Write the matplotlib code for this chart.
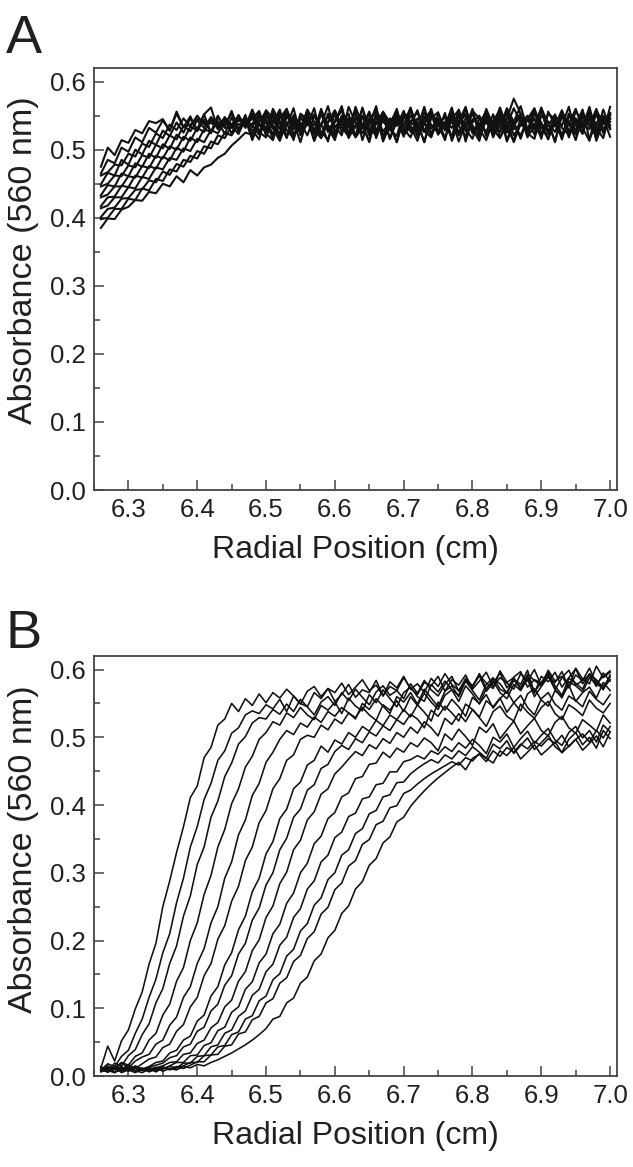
import numpy as np
import matplotlib.pyplot as plt
from matplotlib.ticker import MultipleLocator, FormatStrFormatter

plt.rcParams['font.family'] = ['Liberation Sans', 'DejaVu Sans']
TXT = '#231f20'

# radial positions (cm) of the scan readings
radial_pos = [6.26, 6.27, 6.28, 6.29, 6.30, 6.31, 6.32, 6.33, 6.34, 6.35,
              6.36, 6.37, 6.38, 6.39, 6.40, 6.41, 6.42, 6.43, 6.44, 6.45,
              6.46, 6.47, 6.48, 6.49, 6.50, 6.51, 6.52, 6.53, 6.54, 6.55,
              6.56, 6.57, 6.58, 6.59, 6.60, 6.61, 6.62, 6.63, 6.64, 6.65,
              6.66, 6.67, 6.68, 6.69, 6.70, 6.71, 6.72, 6.73, 6.74, 6.75,
              6.76, 6.77, 6.78, 6.79, 6.80, 6.81, 6.82, 6.83, 6.84, 6.85,
              6.86, 6.87, 6.88, 6.89, 6.90, 6.91, 6.92, 6.93, 6.94, 6.95,
              6.96, 6.97, 6.98, 6.99, 7.00]

# ---- Panel A scans (absorbance x 1000), 6.26-6.47 then 6.48-7.00
scan_a01 = [385, 399, 398, 412, 416, 426, 425, 438, 436, 450, 446, 461, 452, 470, 462, 474, 478, 488, 494, 506, 515, 525] + \
    [522, 548, 531, 556, 514, 538, 545, 524, 551, 529, 517, 541, 558, 533, 519, 547, 536, 511, 549, 527, 540, 555, 521, 534, 513, 546,
     557, 526, 538, 518, 550, 532, 560, 520, 543, 529, 553, 512, 537, 548, 525, 556, 533, 516, 542, 551, 527, 536, 559, 515, 540, 549, 530]
scan_a02 = [398, 400, 413, 413, 428, 426, 443, 440, 457, 454, 471, 468, 485, 482, 498, 494, 512, 508, 525, 521, 538, 534] + \
    [548, 526, 518, 552, 537, 560, 521, 533, 544, 513, 555, 535, 524, 547, 539, 519, 562, 530, 522, 551, 536, 511, 546, 557, 528, 540,
     520, 553, 531, 545, 512, 538, 556, 526, 549, 521, 534, 561, 541, 516, 547, 530, 558, 523, 537, 552, 518, 546, 533, 563, 522, 539, 554]
scan_a03 = [401, 413, 415, 428, 429, 441, 442, 455, 452, 468, 463, 479, 475, 491, 487, 505, 502, 521, 517, 535, 523, 545] + \
    [533, 555, 520, 540, 559, 518, 546, 530, 553, 524, 538, 512, 557, 535, 547, 521, 534, 556, 528, 550, 516, 542, 533, 561, 519, 548,
     537, 525, 554, 513, 539, 551, 524, 535, 558, 530, 517, 546, 575, 553, 520, 533, 562, 527, 544, 515, 550, 538, 523, 556, 535, 547, 519]
scan_a04 = [414, 418, 430, 430, 445, 443, 460, 457, 474, 471, 488, 485, 502, 498, 516, 511, 529, 524, 541, 534, 545, 538] + \
    [553, 527, 541, 516, 550, 535, 561, 521, 538, 552, 526, 515, 543, 557, 534, 519, 548, 540, 560, 512, 536, 551, 524, 541, 555, 528,
     518, 546, 535, 562, 521, 539, 552, 531, 514, 543, 557, 525, 536, 549, 518, 554, 532, 541, 511, 556, 538, 523, 550, 535, 560, 529, 545]
scan_a05 = [417, 430, 431, 447, 445, 462, 459, 476, 472, 490, 484, 503, 497, 518, 511, 530, 526, 542, 523, 547, 530, 551] + \
    [520, 540, 557, 531, 513, 549, 536, 526, 559, 541, 517, 553, 533, 545, 520, 563, 537, 528, 551, 514, 540, 555, 531, 518, 546, 536,
     560, 523, 541, 532, 556, 512, 545, 537, 526, 552, 518, 535, 561, 540, 530, 546, 516, 556, 536, 521, 549, 540, 526, 553, 513, 541, 552]
scan_a06 = [430, 434, 446, 446, 461, 459, 476, 473, 491, 487, 505, 500, 519, 513, 532, 526, 543, 535, 546, 532, 544, 538] + \
    [538, 552, 524, 514, 546, 560, 530, 540, 521, 549, 536, 564, 526, 541, 553, 518, 532, 546, 524, 556, 540, 511, 550, 535, 522, 555,
     531, 545, 538, 518, 559, 527, 540, 550, 520, 536, 562, 532, 513, 546, 542, 557, 524, 535, 552, 520, 538, 560, 531, 545, 517, 550, 536]
scan_a07 = [433, 448, 446, 465, 461, 480, 475, 494, 488, 508, 501, 522, 514, 534, 528, 544, 526, 550, 532, 534, 543, 539] + \
    [529, 515, 553, 541, 532, 557, 520, 546, 536, 561, 518, 540, 551, 526, 535, 558, 514, 545, 537, 550, 529, 520, 555, 540, 532, 563,
     524, 537, 548, 518, 541, 553, 530, 513, 551, 540, 526, 557, 536, 521, 545, 561, 532, 540, 512, 550, 541, 529, 555, 537, 524, 559, 532]
scan_a08 = [446, 450, 462, 461, 477, 474, 492, 488, 507, 502, 521, 515, 535, 527, 543, 532, 548, 536, 545, 537, 550, 534] + \
    [559, 535, 545, 522, 555, 529, 517, 550, 540, 526, 560, 532, 514, 549, 537, 553, 524, 536, 564, 519, 546, 535, 557, 526, 540, 511,
     552, 542, 530, 555, 524, 546, 536, 518, 560, 535, 545, 552, 521, 537, 529, 555, 540, 515, 549, 535, 563, 522, 540, 550, 532, 517, 553]
scan_a09 = [449, 466, 462, 485, 478, 500, 493, 513, 507, 528, 520, 540, 525, 546, 530, 552, 524, 548, 533, 557, 528, 545] + \
    [514, 541, 550, 535, 524, 557, 540, 511, 546, 536, 553, 526, 541, 562, 517, 536, 550, 521, 540, 555, 530, 545, 519, 560, 535, 526,
     548, 538, 514, 552, 541, 563, 528, 536, 557, 518, 546, 532, 540, 553, 524, 516, 550, 541, 536, 558, 526, 545, 532, 513, 557, 540, 546]
scan_a10 = [462, 467, 478, 477, 494, 490, 509, 504, 524, 517, 537, 529, 546, 534, 550, 537, 544, 531, 548, 535, 543, 538] + \
    [545, 557, 526, 536, 519, 552, 541, 530, 558, 513, 538, 548, 535, 521, 563, 540, 532, 553, 517, 545, 536, 560, 524, 550, 540, 511,
     546, 555, 528, 541, 535, 519, 557, 546, 524, 538, 552, 514, 541, 564, 530, 536, 519, 553, 545, 532, 522, 557, 540, 530, 552, 524, 563]
scan_a11 = [465, 485, 480, 503, 497, 518, 511, 532, 525, 543, 528, 553, 533, 537, 545, 541, 539, 534, 536, 553, 527, 544] + \
    [535, 522, 558, 546, 530, 540, 514, 553, 545, 526, 557, 536, 519, 550, 541, 532, 560, 524, 538, 552, 516, 546, 536, 562, 528, 541,
     553, 522, 536, 546, 558, 530, 516, 548, 540, 526, 555, 541, 511, 538, 550, 535, 560, 524, 540, 518, 553, 545, 532, 558, 526, 538, 550]
scan_a12 = [475, 503, 492, 514, 510, 529, 524, 542, 539, 545, 528, 556, 533, 549, 527, 552, 562, 530, 546, 523, 551, 532] + \
    [550, 536, 526, 560, 540, 517, 551, 535, 545, 522, 555, 530, 540, 564, 524, 546, 536, 513, 556, 541, 532, 548, 522, 538, 558, 526,
     551, 540, 518, 545, 535, 560, 527, 538, 550, 520, 541, 555, 530, 536, 546, 522, 561, 538, 526, 551, 540, 514, 548, 535, 556, 530, 541]

# ---- Panel B scans (absorbance x 1000): 6.26-6.50, 6.51-6.75, 6.76-7.00
scan_b01 = [12, 44, 22, 52, 68, 99, 124, 165, 196, 250, 288, 330, 368, 411, 428, 470, 485, 518, 527, 550, 538, 557, 547, 564, 551] + \
    [566, 558, 571, 561, 549, 568, 575, 560, 572, 566, 580, 563, 574, 585, 569, 577, 561, 582, 573, 590, 571, 579, 566, 587, 575] + \
    [594, 578, 569, 586, 574, 592, 580, 572, 598, 581, 588, 570, 593, 584, 576, 599, 583, 590, 574, 602, 586, 579, 605, 588, 596]
scan_b02 = [9, 18, 14, 29, 38, 63, 84, 116, 143, 182, 210, 256, 292, 338, 368, 408, 432, 466, 480, 506, 514, 533, 539, 535, 548] + \
    [542, 556, 538, 561, 550, 545, 566, 557, 572, 553, 563, 578, 559, 570, 566, 584, 561, 575, 569, 588, 572, 563, 581, 576, 590] + \
    [568, 585, 577, 592, 571, 583, 596, 575, 588, 580, 571, 594, 583, 600, 576, 589, 581, 597, 573, 592, 584, 602, 579, 590, 598]
scan_b03 = [11, 7, 19, 15, 30, 39, 61, 77, 108, 129, 166, 192, 236, 266, 312, 338, 382, 406, 442, 462, 490, 501, 521, 529, 527] + \
    [541, 534, 549, 538, 556, 545, 533, 552, 560, 547, 566, 554, 571, 559, 548, 567, 576, 562, 569, 557, 579, 565, 584, 570, 561] + \
    [578, 590, 568, 583, 575, 594, 571, 586, 579, 565, 589, 597, 574, 585, 580, 593, 570, 588, 599, 577, 584, 592, 575, 595, 583]
scan_b04 = [14, 6, 12, 20, 16, 29, 34, 53, 63, 90, 106, 140, 160, 200, 226, 268, 296, 338, 364, 402, 424, 456, 472, 497, 507] + \
    [523, 518, 536, 529, 544, 533, 526, 547, 540, 552, 535, 558, 546, 539, 563, 551, 570, 557, 545, 566, 574, 560, 553, 578, 567] + \
    [583, 570, 562, 587, 576, 591, 568, 580, 595, 573, 586, 578, 599, 565, 590, 582, 596, 574, 588, 601, 579, 593, 585, 570, 592]
scan_b05 = [8, 15, 10, 19, 12, 22, 28, 32, 47, 53, 75, 87, 116, 132, 166, 188, 226, 250, 292, 316, 356, 378, 414, 432, 463] + \
    [478, 497, 510, 504, 521, 515, 530, 522, 538, 531, 544, 536, 527, 550, 541, 557, 546, 535, 560, 552, 566, 549, 571, 558, 545] + \
    [568, 576, 560, 583, 569, 555, 578, 588, 571, 565, 584, 574, 590, 567, 581, 596, 576, 562, 587, 580, 571, 594, 583, 575, 589]
scan_b06 = [10, 6, 14, 9, 17, 11, 18, 25, 28, 42, 47, 66, 76, 102, 116, 148, 166, 202, 222, 258, 280, 318, 338, 374, 392] + \
    [424, 439, 466, 474, 497, 503, 500, 518, 511, 527, 520, 536, 529, 544, 533, 525, 548, 540, 554, 538, 560, 547, 565, 552, 541] + \
    [562, 570, 553, 576, 564, 549, 572, 583, 566, 557, 578, 569, 586, 560, 575, 590, 571, 558, 582, 576, 567, 588, 579, 572, 585]
scan_b07 = [7, 12, 5, 13, 8, 15, 10, 14, 20, 22, 34, 38, 53, 59, 81, 90, 118, 132, 164, 182, 216, 236, 272, 292, 328] + \
    [346, 380, 394, 424, 434, 459, 466, 487, 478, 496, 490, 507, 500, 516, 509, 525, 517, 533, 526, 541, 530, 548, 537, 524, 552] + \
    [540, 556, 545, 531, 559, 550, 563, 543, 557, 568, 551, 539, 564, 572, 555, 546, 569, 560, 577, 553, 566, 574, 558, 581, 569]
scan_b08 = [11, 6, 10, 14, 7, 12, 9, 13, 16, 19, 27, 30, 43, 47, 66, 72, 96, 106, 134, 148, 180, 196, 230, 248, 282] + \
    [300, 334, 351, 382, 394, 422, 430, 454, 460, 479, 488, 482, 498, 492, 508, 502, 517, 510, 526, 519, 534, 527, 514, 540, 531] + \
    [546, 536, 524, 549, 541, 530, 554, 545, 558, 537, 551, 562, 544, 533, 557, 566, 549, 540, 561, 554, 545, 568, 556, 548, 563]
scan_b09 = [9, 13, 6, 11, 8, 14, 10, 7, 12, 15, 20, 21, 32, 34, 48, 53, 71, 79, 102, 112, 140, 154, 185, 201, 234] + \
    [251, 284, 301, 334, 348, 378, 390, 416, 424, 446, 456, 468, 479, 473, 489, 483, 498, 491, 507, 500, 515, 506, 523, 514, 502] + \
    [528, 519, 535, 523, 541, 529, 516, 538, 546, 531, 524, 549, 537, 528, 544, 553, 535, 526, 548, 541, 532, 555, 543, 536, 550]
scan_b10 = [12, 8, 5, 10, 14, 7, 11, 9, 13, 10, 15, 20, 20, 30, 31, 45, 49, 67, 72, 94, 102, 128, 139, 167, 180] + \
    [210, 224, 255, 270, 300, 314, 343, 354, 380, 389, 412, 418, 439, 442, 460, 462, 478, 470, 484, 478, 492, 486, 499, 492, 480] + \
    [505, 496, 512, 501, 488, 515, 507, 520, 498, 511, 524, 505, 517, 528, 510, 502, 522, 531, 514, 506, 526, 518, 509, 533, 521]
scan_b11 = [8, 11, 6, 12, 9, 5, 10, 13, 8, 11, 14, 12, 19, 19, 29, 30, 43, 46, 63, 68, 88, 96, 119, 128, 154] + \
    [165, 193, 205, 234, 247, 276, 288, 316, 326, 352, 360, 383, 388, 409, 412, 430, 432, 449, 449, 464, 467, 473, 468, 480, 475] + \
    [486, 479, 492, 484, 497, 488, 476, 500, 493, 505, 485, 498, 509, 491, 503, 513, 496, 488, 507, 516, 499, 510, 493, 518, 508]
scan_b12 = [6, 10, 13, 7, 11, 8, 12, 6, 10, 14, 9, 12, 15, 20, 20, 30, 31, 43, 45, 61, 65, 84, 89, 111, 118] + \
    [142, 151, 177, 187, 214, 225, 252, 263, 290, 300, 326, 334, 358, 365, 387, 392, 412, 415, 433, 434, 446, 454, 461, 467, 462] + \
    [474, 468, 480, 473, 486, 478, 469, 490, 483, 495, 476, 488, 499, 482, 492, 503, 486, 478, 497, 507, 489, 500, 484, 510, 498]
scan_b13 = [10, 7, 12, 5, 9, 13, 8, 11, 6, 12, 10, 14, 11, 16, 21, 21, 31, 32, 44, 46, 62, 65, 83, 88, 108] + \
    [114, 137, 145, 169, 178, 203, 213, 239, 249, 275, 285, 310, 318, 342, 349, 371, 376, 396, 399, 417, 422, 431, 439, 446, 452] + \
    [458, 464, 459, 470, 465, 476, 469, 462, 480, 473, 485, 468, 478, 489, 474, 483, 493, 477, 487, 497, 481, 491, 502, 486, 508]
scan_b14 = [9, 6, 11, 7, 13, 8, 5, 10, 12, 7, 11, 9, 14, 12, 17, 15, 20, 24, 29, 34, 40, 46, 53, 61, 70] + \
    [84, 88, 108, 115, 137, 146, 170, 180, 204, 215, 240, 251, 276, 287, 311, 321, 344, 353, 375, 382, 398, 410, 421, 431, 440] + \
    [448, 456, 463, 452, 469, 475, 464, 480, 472, 485, 478, 490, 483, 494, 487, 498, 491, 503, 486, 497, 505, 493, 510, 499, 516]

scans_a = [scan_a01, scan_a02, scan_a03, scan_a04, scan_a05, scan_a06,
           scan_a07, scan_a08, scan_a09, scan_a10, scan_a11, scan_a12]
scans_b = [scan_b01, scan_b02, scan_b03, scan_b04, scan_b05, scan_b06, scan_b07,
           scan_b08, scan_b09, scan_b10, scan_b11, scan_b12, scan_b13, scan_b14]


def style_axis(ax, ylab_y):
    ax.set_xlim(6.25, 7.01)
    ax.set_ylim(0, 0.62)
    ax.xaxis.set_major_locator(MultipleLocator(0.1))
    ax.xaxis.set_minor_locator(MultipleLocator(0.05))
    ax.yaxis.set_major_locator(MultipleLocator(0.1))
    ax.yaxis.set_minor_locator(MultipleLocator(0.05))
    ax.xaxis.set_major_formatter(FormatStrFormatter('%.1f'))
    ax.yaxis.set_major_formatter(FormatStrFormatter('%.1f'))
    ax.tick_params(which='both', direction='in', top=False, right=False,
                   colors='#444444', labelcolor=TXT, labelsize=18.5, width=1.1)
    ax.tick_params(which='major', length=7, pad=6)
    ax.tick_params(which='minor', length=4)
    for sp in ax.spines.values():
        sp.set_color('#444444')
        sp.set_linewidth(1.3)
    ax.set_xlabel('Radial Position (cm)', fontsize=23, color=TXT, labelpad=9)
    ax.set_ylabel('Absorbance (560 nm)', fontsize=24.5, color=TXT)
    # the label sits a bit above the middle of the axis in the original
    ax.yaxis.set_label_coords(-0.105, ylab_y)


fig = plt.figure(figsize=(6.33, 11.67), dpi=100)
W, H = 633.0, 1167.0
ax_a = fig.add_axes([94 / W, 1 - 490 / H, (617 - 94) / W, (490 - 68) / H])
ax_b = fig.add_axes([94 / W, 1 - 1076 / H, (617 - 94) / W, (1076 - 656) / H])

x = np.array(radial_pos)
for s in scans_a:
    ax_a.plot(x, np.array(s) / 1000.0, color='#111111', lw=1.5)
for s in scans_b:
    ax_b.plot(x, np.array(s) / 1000.0, color='#111111', lw=1.15)

style_axis(ax_a, 0.545)
style_axis(ax_b, 0.54)

fig.text(6 / W, 1 - 53 / H, 'A', fontsize=39, color=TXT, va='baseline')
fig.text(6 / W, 1 - 648 / H, 'B', fontsize=39, color=TXT, va='baseline')

fig.savefig('out.png', dpi=100)
